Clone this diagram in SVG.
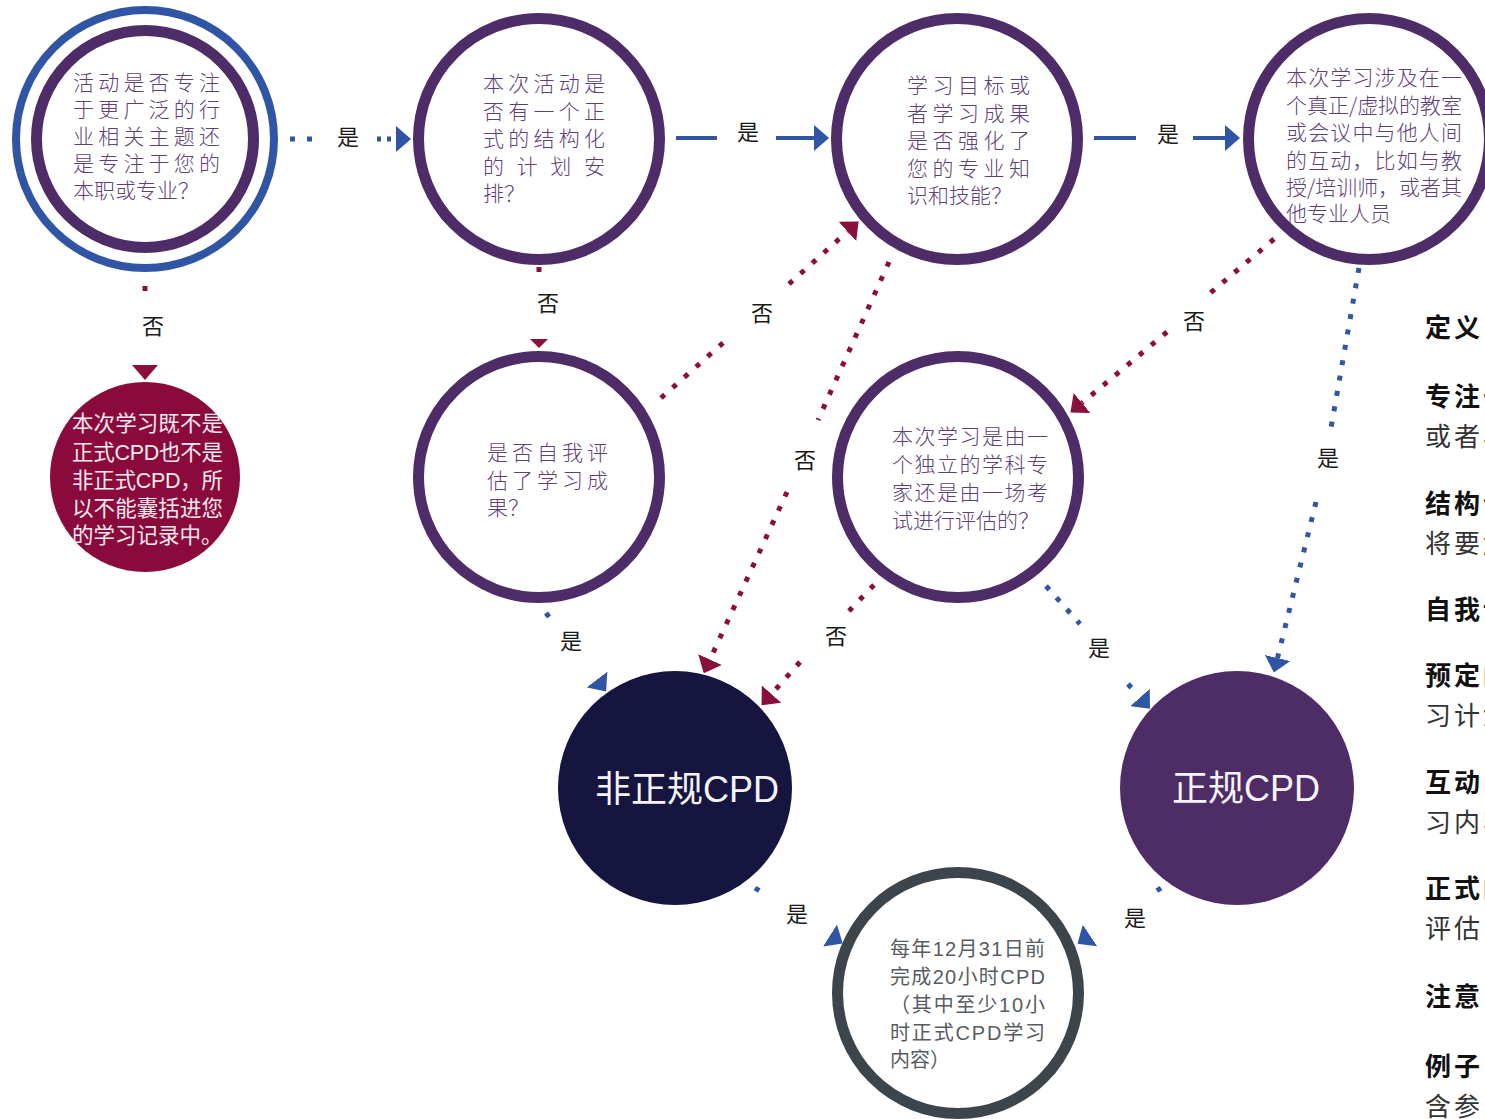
<svg xmlns="http://www.w3.org/2000/svg" width="1485" height="1119" viewBox="0 0 1485 1119">
<style>
.ring{fill:#fff;stroke:#4e2c67;stroke-width:11}
.q{font-family:"Noto Sans CJK SC",sans-serif;font-size:21px;fill:#5e3f78;font-weight:300}
.w{font-family:"Liberation Sans","Noto Sans CJK SC",sans-serif;fill:#f6e9ef;font-size:21.5px}
.big{font-family:"Liberation Sans","Noto Sans CJK SC",sans-serif;fill:#f4f4f8;font-size:36px}
.g{font-family:"Liberation Sans","Noto Sans CJK SC",sans-serif;fill:#565c62;font-size:20px}
.lbl{font-family:"Noto Sans CJK SC",sans-serif;font-size:22px;fill:#1a1a1a;text-anchor:middle}
.dr{fill:none;stroke:#8b0f3d;stroke-width:5;stroke-dasharray:5 10.6}
.db{fill:none;stroke:#2f55a4;stroke-width:5;stroke-dasharray:5 10.6}
.sb{fill:none;stroke:#2f55a4;stroke-width:4}
.one{stroke-dasharray:5 400}
.hd{font-family:"Noto Sans CJK SC",sans-serif;font-size:26px;font-weight:bold;fill:#111;letter-spacing:3px}
.tx{font-family:"Noto Sans CJK SC",sans-serif;font-size:26px;fill:#333;letter-spacing:3px}
</style>
<defs>
<marker id="ahb" markerUnits="userSpaceOnUse" viewBox="0 -13 15 26" refX="0" refY="0" markerWidth="15" markerHeight="26" orient="auto"><path d="M0,-13L15,0L0,13z" fill="#2f55a4"/></marker>
<marker id="ahr" markerUnits="userSpaceOnUse" viewBox="0 -13 15 26" refX="0" refY="0" markerWidth="15" markerHeight="26" orient="auto"><path d="M0,-13L15,0L0,13z" fill="#8b0f3d"/></marker>
<marker id="ahrs" markerUnits="userSpaceOnUse" viewBox="0 -9 9 18" refX="0" refY="0" markerWidth="9" markerHeight="18" orient="auto"><path d="M0,-9L9,0L0,9z" fill="#8b0f3d"/></marker>
</defs>

<g id="q1">
<circle cx="145" cy="139" r="129" fill="#fff" stroke="#2f55a4" stroke-width="8"/>
<circle class="ring" cx="145" cy="139" r="108.5"/>
<text class="q"><tspan x="73" y="90" textLength="147" lengthAdjust="spacing">活动是否专注</tspan><tspan x="73" y="117" textLength="147" lengthAdjust="spacing">于更广泛的行</tspan><tspan x="73" y="144" textLength="147" lengthAdjust="spacing">业相关主题还</tspan><tspan x="73" y="171" textLength="147" lengthAdjust="spacing">是专注于您的</tspan><tspan x="73" y="198">本职或专业？</tspan></text>
</g>

<g id="q2">
<circle class="ring" cx="539" cy="139" r="120.5"/>
<text class="q"><tspan x="483" y="91" textLength="122" lengthAdjust="spacing">本次活动是</tspan><tspan x="483" y="118.5" textLength="122" lengthAdjust="spacing">否有一个正</tspan><tspan x="483" y="146" textLength="122" lengthAdjust="spacing">式的结构化</tspan><tspan x="483" y="173.5" textLength="122" lengthAdjust="spacing">的计划安</tspan><tspan x="483" y="201">排？</tspan></text>
</g>

<g id="q3">
<circle class="ring" cx="957" cy="139" r="120.5"/>
<text class="q"><tspan x="907" y="93" textLength="123" lengthAdjust="spacing">学习目标或</tspan><tspan x="907" y="120.5" textLength="123" lengthAdjust="spacing">者学习成果</tspan><tspan x="907" y="148" textLength="123" lengthAdjust="spacing">是否强化了</tspan><tspan x="907" y="175.5" textLength="123" lengthAdjust="spacing">您的专业知</tspan><tspan x="907" y="203">识和技能？</tspan></text>
</g>

<g id="q4">
<circle class="ring" cx="1369" cy="139" r="120.5"/>
<text class="q"><tspan x="1286" y="85" textLength="176" lengthAdjust="spacing">本次学习涉及在一</tspan><tspan x="1286" y="112.5" textLength="176" lengthAdjust="spacing">个真正/虚拟的教室</tspan><tspan x="1286" y="140" textLength="176" lengthAdjust="spacing">或会议中与他人间</tspan><tspan x="1286" y="167.5" textLength="176" lengthAdjust="spacing">的互动，比如与教</tspan><tspan x="1286" y="195" textLength="176" lengthAdjust="spacing">授/培训师，或者其</tspan><tspan x="1286" y="221">他专业人员</tspan></text>
</g>

<g id="none">
<circle cx="145" cy="477" r="95" fill="#8a0b3b"/>
<text class="w"><tspan x="72" y="431" textLength="151" lengthAdjust="spacing">本次学习既不是</tspan><tspan x="72" y="459.5" textLength="151" lengthAdjust="spacing">正式CPD也不是</tspan><tspan x="72" y="488" textLength="151" lengthAdjust="spacing">非正式CPD，所</tspan><tspan x="72" y="516" textLength="151" lengthAdjust="spacing">以不能囊括进您</tspan><tspan x="72" y="543">的学习记录中。</tspan></text>
</g>

<g id="q5">
<circle class="ring" cx="539" cy="477" r="120.5"/>
<text class="q"><tspan x="487" y="460" textLength="121" lengthAdjust="spacing">是否自我评</tspan><tspan x="487" y="488" textLength="121" lengthAdjust="spacing">估了学习成</tspan><tspan x="487" y="515">果？</tspan></text>
</g>

<g id="q6">
<circle class="ring" cx="958" cy="477" r="120.5"/>
<text class="q"><tspan x="892" y="444" textLength="156" lengthAdjust="spacing">本次学习是由一</tspan><tspan x="892" y="472" textLength="156" lengthAdjust="spacing">个独立的学科专</tspan><tspan x="892" y="500" textLength="156" lengthAdjust="spacing">家还是由一场考</tspan><tspan x="892" y="528">试进行评估的？</tspan></text>
</g>

<g id="informal">
<circle cx="675" cy="788" r="117" fill="#16153f"/>
<text class="big" x="595" y="802">非正规CPD</text>
</g>

<g id="formal">
<circle cx="1237" cy="788" r="117" fill="#4e2c66"/>
<text class="big" x="1172" y="801">正规CPD</text>
</g>

<g id="target">
<circle cx="958" cy="993" r="120.5" fill="#fff" stroke="#3c444c" stroke-width="11"/>
<text class="g"><tspan x="890" y="956" textLength="155" lengthAdjust="spacing">每年12月31日前</tspan><tspan x="890" y="984" textLength="155" lengthAdjust="spacing">完成20小时CPD</tspan><tspan x="890" y="1012" textLength="155" lengthAdjust="spacing">（其中至少10小</tspan><tspan x="890" y="1040" textLength="155" lengthAdjust="spacing">时正式CPD学习</tspan><tspan x="890" y="1067">内容）</tspan></text>
</g>

<g id="connectors">
<path class="db" style="stroke-dasharray:5 12" d="M290,139H316"/>
<path class="db" style="stroke-dasharray:4 6" d="M377,139H396" marker-end="url(#ahb)"/>
<path class="sb" d="M676,138H717"/>
<path class="sb" d="M776,138H814" marker-end="url(#ahb)"/>
<path class="sb" d="M1094,138H1136"/>
<path class="sb" d="M1193,138H1225" marker-end="url(#ahb)"/>
<path class="dr one" d="M145,286V365" marker-end="url(#ahr)"/>
<path class="dr one" d="M539,267V339" marker-end="url(#ahrs)"/>
<path class="dr" d="M661,398L724,342"/>
<path class="dr" d="M789,284L847.5,231.5" marker-end="url(#ahr)"/>
<path class="dr" d="M889,262L818,420"/>
<path class="dr" d="M787,492L710,659.5" marker-end="url(#ahr)"/>
<path class="dr" d="M874,585L848,612"/>
<path class="dr" d="M800,662L771.5,694" marker-end="url(#ahr)"/>
<path class="dr" d="M1274,239L1208,295"/>
<path class="dr" d="M1167,332L1082,403" marker-end="url(#ahr)"/>
<path class="db" d="M1359,268L1331,428"/>
<path class="db" d="M1316,502L1277.5,658" marker-end="url(#ahb)"/>
<path class="db one" d="M546,613L597,679.5" marker-end="url(#ahb)"/>
<path class="db" d="M1046,586L1080,624"/>
<path class="db one" d="M1128,684L1140,697.5" marker-end="url(#ahb)"/>
<path class="db one" d="M755,888L830,935.5" marker-end="url(#ahb)"/>
<path class="db one" d="M1161,888L1090,935.5" marker-end="url(#ahb)"/>
<text class="lbl" x="348" y="145">是</text>
<text class="lbl" x="748" y="140">是</text>
<text class="lbl" x="1168" y="142">是</text>
<text class="lbl" x="153" y="334">否</text>
<text class="lbl" x="548" y="311">否</text>
<text class="lbl" x="762" y="321">否</text>
<text class="lbl" x="805" y="468">否</text>
<text class="lbl" x="836" y="644">否</text>
<text class="lbl" x="1194" y="329">否</text>
<text class="lbl" x="1328" y="466">是</text>
<text class="lbl" x="571" y="649">是</text>
<text class="lbl" x="1099" y="656">是</text>
<text class="lbl" x="797" y="922">是</text>
<text class="lbl" x="1135" y="926">是</text>
</g>

<g id="definitions">
<text class="hd" x="1425" y="337">定义</text>
<text class="hd" x="1425" y="406">专注于</text>
<text class="tx" x="1425" y="446">或者与</text>
<text class="hd" x="1425" y="513">结构化</text>
<text class="tx" x="1425" y="553">将要解</text>
<text class="hd" x="1425" y="619">自我评</text>
<text class="hd" x="1425" y="685">预定的</text>
<text class="tx" x="1425" y="725">习计划</text>
<text class="hd" x="1425" y="792">互动：</text>
<text class="tx" x="1425" y="832">习内容</text>
<text class="hd" x="1425" y="898">正式的</text>
<text class="tx" x="1425" y="938">评估</text>
<text class="hd" x="1425" y="1006">注意</text>
<text class="hd" x="1425" y="1076">例子</text>
<text class="tx" x="1425" y="1116">含参</text>
</g>
</svg>
